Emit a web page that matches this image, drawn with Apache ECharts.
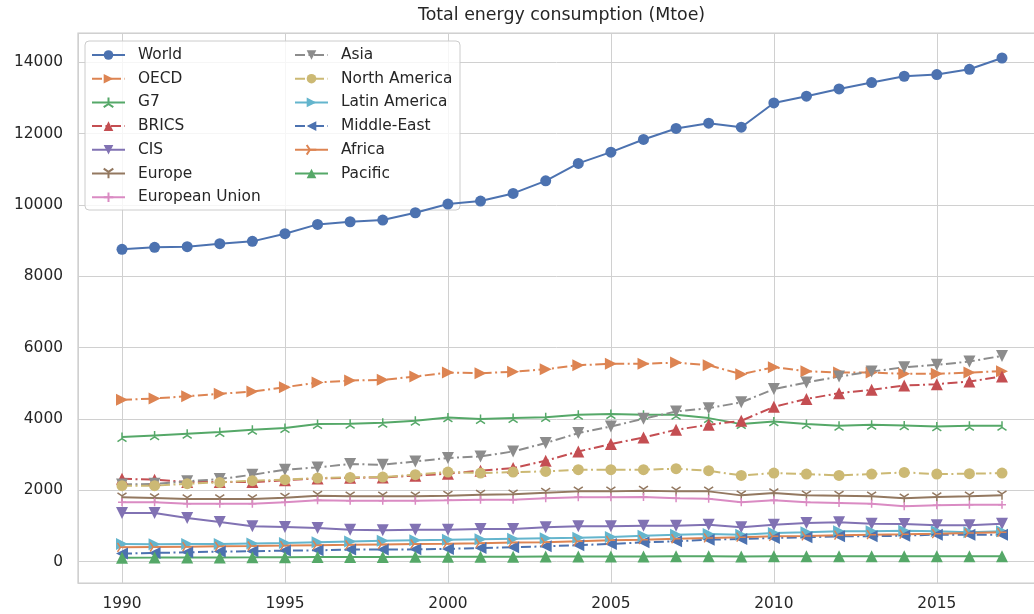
<!DOCTYPE html>
<html>
<head>
<meta charset="utf-8">
<script src="https://cdn.jsdelivr.net/npm/echarts@6/dist/echarts.min.js"></script>
<style>
  html, body { margin: 0; padding: 0; background: #ffffff; }
  #chart { width: 1034px; height: 614px; }
</style>
</head>
<body>
<div id="chart"></div>
<script>
// Total energy consumption by region, Mtoe, 1990-2017
const years = [1990, 1991, 1992, 1993, 1994, 1995, 1996, 1997, 1998, 1999,
               2000, 2001, 2002, 2003, 2004, 2005, 2006, 2007, 2008, 2009,
               2010, 2011, 2012, 2013, 2014, 2015, 2016, 2017];

const world = [8755, 8811, 8829, 8913, 8979, 9193, 9455, 9529, 9576, 9781,
               10024, 10108, 10323, 10676, 11164, 11480, 11836, 12144, 12292, 12180,
               12860, 13048, 13252, 13432, 13608, 13656, 13804, 14120];
const oecd = [4536, 4573, 4639, 4704, 4769, 4890, 5021, 5077, 5096, 5189,
              5301, 5283, 5320, 5395, 5507, 5544, 5544, 5581, 5507, 5255,
              5451, 5339, 5301, 5301, 5264, 5264, 5301, 5339];
const g7 = [3491, 3537, 3584, 3631, 3696, 3743, 3855, 3864, 3892, 3948,
            4041, 3995, 4023, 4050, 4116, 4135, 4116, 4116, 4023, 3855,
            3929, 3855, 3808, 3836, 3817, 3789, 3808, 3808];
const brics = [2324, 2296, 2230, 2235, 2230, 2280, 2330, 2350, 2360, 2410,
               2464, 2548, 2623, 2828, 3089, 3295, 3481, 3696, 3836, 3948,
               4340, 4560, 4723, 4816, 4937, 4975, 5049, 5189];
const cis = [1363, 1363, 1223, 1111, 989, 971, 943, 896, 877, 896,
             896, 915, 915, 966, 989, 989, 1008, 1008, 1036, 961,
             1036, 1083, 1101, 1064, 1055, 1017, 1017, 1064];
const europe = [1801, 1783, 1755, 1755, 1755, 1792, 1848, 1829, 1829, 1829,
                1848, 1876, 1885, 1932, 1969, 1969, 1988, 1969, 1969, 1857,
                1923, 1857, 1848, 1829, 1773, 1811, 1829, 1857];
const eu = [1661, 1661, 1624, 1624, 1624, 1661, 1717, 1708, 1708, 1708,
            1717, 1736, 1736, 1773, 1801, 1801, 1811, 1773, 1764, 1661,
            1717, 1661, 1643, 1624, 1549, 1577, 1596, 1596];
const asia = [2160, 2180, 2250, 2315, 2436, 2576, 2641, 2735, 2716, 2809,
              2903, 2949, 3089, 3323, 3603, 3789, 4004, 4209, 4303, 4465,
              4836, 5021, 5189, 5329, 5451, 5516, 5609, 5768];
const northAmerica = [2128, 2128, 2184, 2221, 2268, 2296, 2343, 2361, 2371, 2436,
                      2511, 2483, 2511, 2529, 2576, 2576, 2576, 2604, 2548, 2417,
                      2483, 2455, 2417, 2455, 2501, 2455, 2464, 2483];
const latinAmerica = [490, 488, 492, 495, 510, 520, 545, 565, 585, 600,
                      610, 625, 640, 655, 670, 691, 728, 756, 775, 756,
                      803, 821, 849, 849, 868, 849, 821, 849];
const middleEast = [224, 243, 261, 280, 289, 308, 317, 336, 336, 345,
                    355, 383, 401, 429, 460, 495, 541, 569, 616, 635,
                    663, 681, 709, 709, 728, 756, 756, 756];
const africa = [401, 409, 418, 428, 437, 448, 461, 470, 482, 494,
                504, 517, 533, 546, 569, 597, 614, 641, 663, 684,
                709, 719, 741, 756, 769, 784, 801, 821];
const pacific = [110, 112, 115, 118, 120, 125, 128, 130, 130, 133,
                 135, 136, 138, 140, 142, 145, 146, 147, 147, 145,
                 150, 149, 150, 151, 150, 149, 150, 152];

const yTicks = [0, 2000, 4000, 6000, 8000, 10000, 12000, 14000];
const xTicks = [1990, 1995, 2000, 2005, 2010, 2015];

// marker shapes
const SYM = {
  circle: 'circle',
  triUp: 'path://M5,0 L10,10 L0,10 Z',
  triDown: 'path://M0,0 L10,0 L5,10 Z',
  triRight: 'path://M0,0 L10,5 L0,10 Z',
  triLeft: 'path://M10,0 L0,5 L10,10 Z',
  tickUp: 'path://M8.66,10 L8.66,0 M8.66,10 L0,15 M8.66,10 L17.32,15',
  tickDown: 'path://M8.66,5 L8.66,15 M8.66,5 L0,0 M8.66,5 L17.32,0',
  tickRight: 'path://M5,8.66 L15,8.66 M5,8.66 L0,0 M5,8.66 L0,17.32',
  plus: 'path://M5,0 L5,10 M0,5 L10,5'
};

const DASHDOT = [10, 3.5, 2, 3.5];

function mk(name, values, color, symbol, size, dashed, stroked) {
  return {
    name: name,
    type: 'line',
    data: years.map((y, i) => [y, values[i]]),
    symbol: symbol,
    symbolSize: size,
    showAllSymbol: true,
    animation: false,
    lineStyle: { color: color, width: 2, type: dashed ? DASHDOT : 'solid' },
    itemStyle: stroked
      ? { color: color, borderColor: color, borderWidth: 1.5 }
      : { color: color, borderWidth: 0 },
    emphasis: { disabled: true }
  };
}

const series = [
  mk('World', world, '#4C72B0', SYM.circle, 11, false, false),
  mk('OECD', oecd, '#DD8452', SYM.triRight, 12, true, false),
  mk('G7', g7, '#55A868', SYM.tickUp, 9, false, true),
  mk('BRICS', brics, '#C44E52', SYM.triUp, 12, true, false),
  mk('CIS', cis, '#8172B3', SYM.triDown, 12, false, false),
  mk('Europe', europe, '#937860', SYM.tickDown, 9, false, true),
  mk('European Union', eu, '#DA8BC3', SYM.plus, 8, false, true),
  mk('Asia', asia, '#8C8C8C', SYM.triDown, 12, true, false),
  mk('North America', northAmerica, '#CCB974', SYM.circle, 11, true, false),
  mk('Latin America', latinAmerica, '#64B5CD', SYM.triRight, 12, false, false),
  mk('Middle-East', middleEast, '#4C72B0', SYM.triLeft, 12, true, false),
  mk('Africa', africa, '#DD8452', SYM.tickRight, 9, false, true),
  mk('Pacific', pacific, '#55A868', SYM.triUp, 12, false, false)
];

const FONT = 'DejaVu Sans';
const TXT = '#262626';

const legendCommon = {
  orient: 'vertical',
  padding: 0,
  itemWidth: 33,
  itemHeight: 12,
  itemGap: 7.7,
  selectedMode: false,
  textStyle: { fontFamily: FONT, fontSize: 15.4, color: TXT, lineHeight: 16, padding: [0, 0, 0, 8] }
};

const option = {
  backgroundColor: '#ffffff',
  animation: false,
  title: {
    text: 'Total energy consumption (Mtoe)',
    left: 418,
    top: 7,
    padding: 0,
    textStyle: { fontFamily: FONT, fontSize: 17.4, fontWeight: 'normal', color: TXT }
  },
  graphic: [{
    type: 'rect',
    z: 3,
    shape: { x: 85, y: 41, width: 375, height: 169, r: 4 },
    style: { fill: 'rgba(255,255,255,0.8)', stroke: '#cccccc', lineWidth: 1 }
  }],
  legend: [
    Object.assign({ left: 91, top: 47, data: series.slice(0, 7).map(s => s.name) }, legendCommon),
    Object.assign({ left: 294, top: 47, data: series.slice(7).map(s => s.name) }, legendCommon)
  ],
  grid: {
    left: 78, top: 33, width: 968, height: 550,
    outerBoundsMode: 'none',
    containLabel: false,
    show: true, borderColor: '#cccccc', borderWidth: 1.25, backgroundColor: 'transparent'
  },
  xAxis: {
    type: 'value',
    min: 1988.65,
    max: 2018.35,
    minInterval: 5,
    maxInterval: 5,
    axisLine: { show: false },
    axisTick: { show: false },
    splitLine: { show: true, lineStyle: { color: '#d0d0d0', width: 1 } },
    axisLabel: {
      showMinLabel: false, showMaxLabel: false,
      margin: 13,
      fontFamily: FONT, fontSize: 15.4, color: TXT,
      formatter: v => (xTicks.indexOf(v) >= 0 ? String(v) : '')
    }
  },
  yAxis: {
    type: 'value',
    min: -600,
    max: 14821,
    minInterval: 2000,
    maxInterval: 2000,
    axisLine: { show: false },
    axisTick: { show: false },
    splitLine: { show: true, lineStyle: { color: '#d0d0d0', width: 1 } },
    axisLabel: {
      showMinLabel: false, showMaxLabel: false,
      margin: 15,
      fontFamily: FONT, fontSize: 15.4, color: TXT,
      formatter: v => (yTicks.indexOf(v) >= 0 ? String(v) : '')
    }
  },
  series: series
};

const chart = echarts.init(document.getElementById('chart'), null, { renderer: 'canvas' });
chart.setOption(option);
</script>
</body>
</html>
